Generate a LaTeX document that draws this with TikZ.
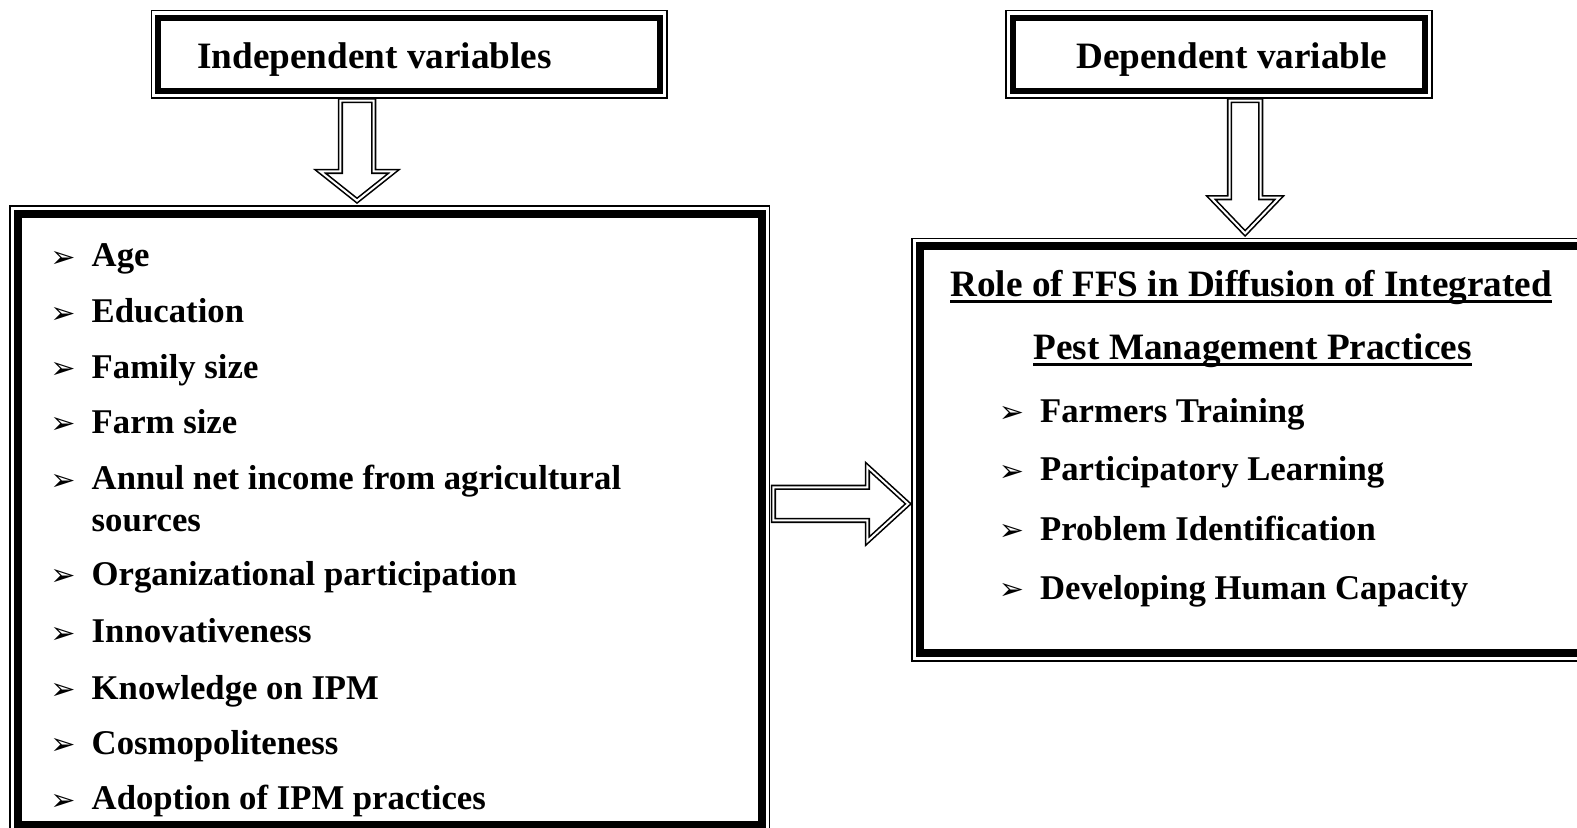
\documentclass[tikz,border=0pt]{standalone}
\usepackage{fontspec}
\setmainfont{Liberation Serif}
\newfontfamily\dejavu{DejaVu Sans}
\usetikzlibrary{calc}
\newcommand\bul{\hspace*{-2pt}\raisebox{-0.5pt}{\dejavu\fontsize{30pt}{30pt}\selectfont ➢}}
\newcommand\itm[1]{\makebox[39pt][l]{\bul}#1}
\newcommand\innerframe[3]{\draw[line width=#3] ([shift={(#2,#2)}]#1.north west) rectangle ([shift={(-#2,-#2)}]#1.south east);}
\tikzset{
  frame/.style={draw, line width=1.5pt, inner sep=0pt, outer sep=0pt, anchor=north west},
  hdr/.style={inner sep=0pt, anchor=base west, font=\bfseries\fontsize{37pt}{44pt}\selectfont},
  item/.style={inner sep=0pt, anchor=base west, font=\bfseries\fontsize{34.5pt}{40pt}\selectfont},
  ttl/.style={inner sep=0pt, anchor=base, font=\bfseries\fontsize{37pt}{44pt}\selectfont},
  fatarrow/.style={draw=black, double=white, double distance=2pt, line width=1.6pt, fill=white, line join=miter},
}
\begin{document}
\begin{tikzpicture}[x=1pt, y=-1pt]
\clip (0,0) rectangle (1568,823);
\fill[white] (0,0) rectangle (1568,823);

% header boxes
\node[frame, minimum width=512.5pt, minimum height=87pt] (hL) at (150.5,10.5) {};
\innerframe{hL}{7}{6pt}
\node[hdr] (tL) at (196,68) {Independent variables};

\node[frame, minimum width=424pt, minimum height=87pt] (hR) at (1000,10.5) {};
\innerframe{hR}{7}{6pt}
\node[hdr] (tR) at (1070,68) {Dependent variable};

% big boxes
\node[frame, minimum width=755pt, minimum height=623pt] (bL) at (10,205) {};
\innerframe{bL}{7.5}{8pt}
\node[frame, minimum width=700pt, minimum height=420pt] (bR) at (907,237) {};
\innerframe{bR}{7.5}{8pt}

% arrows
\coordinate (axL) at (355,0);
\coordinate (axR) at (1238,0);
\coordinate (axH) at (0,501);
\draw[fatarrow] let \p1=(axL |- hL.south), \p2=(axL |- bL.north) in
  (\x1-16.5pt,\y1-2.5pt) -- (\x1-16.5pt,\y2+34.5pt) -- (\x1-36.5pt,\y2+34.5pt) -- (\x1,\y2+5.5pt)
  -- (\x1+36.5pt,\y2+34.5pt) -- (\x1+16.5pt,\y2+34.5pt) -- (\x1+16.5pt,\y1-2.5pt) -- cycle;
\draw[fatarrow] let \p1=(axR |- hR.south), \p2=(axR |- bR.north) in
  (\x1-15.5pt,\y1-2.5pt) -- (\x1-15.5pt,\y2+40.5pt) -- (\x1-34pt,\y2+40.5pt) -- (\x1,\y2+5pt)
  -- (\x1+34pt,\y2+40.5pt) -- (\x1+15.5pt,\y2+40.5pt) -- (\x1+15.5pt,\y1-2.5pt) -- cycle;
\draw[fatarrow] let \p1=(bL.east |- axH), \p2=(bR.west |- axH) in
  (\x1+4pt,\y1+16.5pt) -- (\x2-44.5pt,\y1+16.5pt) -- (\x2-44.5pt,\y1+37pt) -- (\x2-4pt,\y1)
  -- (\x2-44.5pt,\y1-37pt) -- (\x2-44.5pt,\y1-16.5pt) -- (\x1+4pt,\y1-16.5pt) -- cycle;

% left items
\node[item] (i1) at (52,265) {\itm{Age}};
\node[item] (i2) at (52,321) {\itm{Education}};
\node[item] (i3) at (52,376) {\itm{Family size}};
\node[item] (i4) at (52,431) {\itm{Farm size}};
\node[item] (i5) at (52,487) {\itm{Annul net income from agricultural}};
\node[item] (i5b) at (91,528) {sources};
\node[item] (i6) at (52,582) {\itm{Organizational participation}};
\node[item] (i7) at (52,639) {\itm{Innovativeness}};
\node[item] (i8) at (52,695) {\itm{Knowledge on IPM}};
\node[item] (i9) at (52,750) {\itm{Cosmopoliteness}};
\node[item] (i10) at (52,805) {\itm{Adoption of IPM practices}};

% right title
\node[ttl] (r1) at (1244,295) {Role of FFS in Diffusion of Integrated};
\node[ttl] (r2) at (1245.5,357) {Pest Management Practices};
\draw[line width=3pt] ([yshift=-5pt]r1.base west) -- ([yshift=-5pt]r1.base east);
\draw[line width=3pt] ([yshift=-5pt]r2.base west) -- ([yshift=-5pt]r2.base east);

% right items
\node[item] (j1) at (995,420) {\itm{Farmers Training}};
\node[item] (j2) at (995,478) {\itm{Participatory Learning}};
\node[item] (j3) at (995,537) {\itm{Problem Identification}};
\node[item] (j4) at (995,596) {\itm{Developing Human Capacity}};
\end{tikzpicture}
\end{document}
